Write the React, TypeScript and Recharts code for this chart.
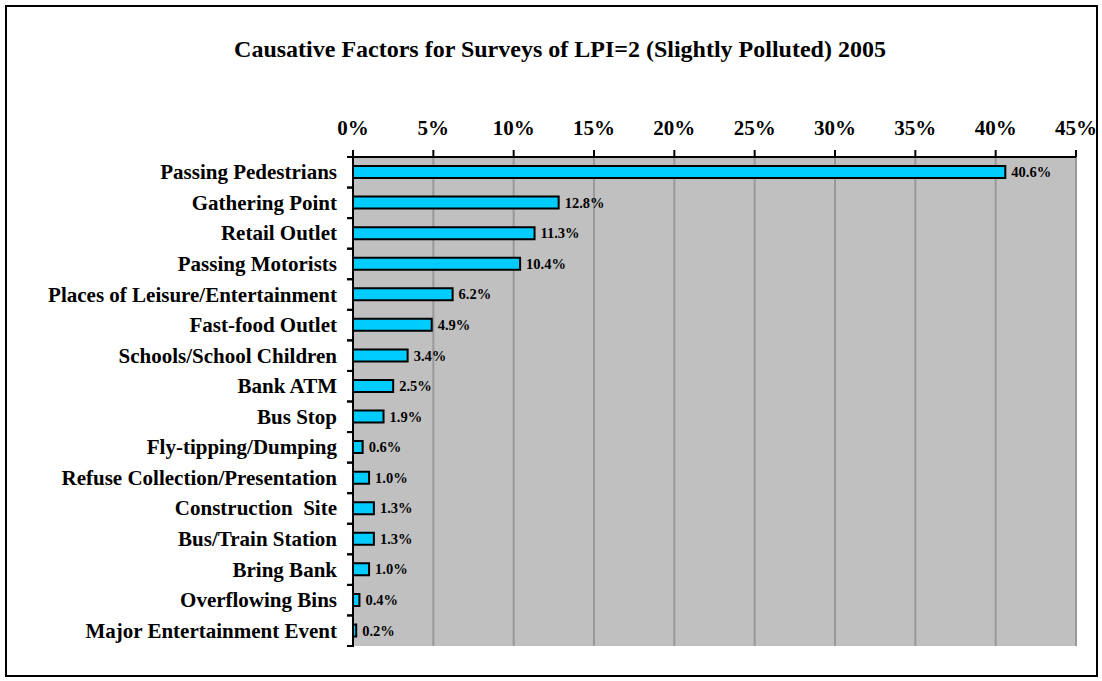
import { Bar, BarChart, CartesianGrid, LabelList, XAxis, YAxis } from "recharts";

const categories = [
  "Passing Pedestrians",
  "Gathering Point",
  "Retail Outlet",
  "Passing Motorists",
  "Places of Leisure/Entertainment",
  "Fast-food Outlet",
  "Schools/School Children",
  "Bank ATM",
  "Bus Stop",
  "Fly-tipping/Dumping",
  "Refuse Collection/Presentation",
  "Construction  Site",
  "Bus/Train Station",
  "Bring Bank",
  "Overflowing Bins",
  "Major Entertainment Event",
];

const shares = [40.6, 12.8, 11.3, 10.4, 6.2, 4.9, 3.4, 2.5, 1.9, 0.6, 1.0, 1.3, 1.3, 1.0, 0.4, 0.2];

const xTicks = [0, 5, 10, 15, 20, 25, 30, 35, 40, 45];

const data = categories.map((name, i) => ({ name, value: shares[i] }));

const FONT = "'Liberation Serif', 'Times New Roman', serif";
const PLOT_TOP = 157;
const PLOT_BOTTOM = 646;
const BAND = (PLOT_BOTTOM - PLOT_TOP) / categories.length;

const CategoryTick = (props: any) => {
  const { x, y, payload } = props;
  const axisX = x + 9;
  return (
    <g>
      <line x1={axisX - 7} x2={axisX} y1={y - BAND / 2} y2={y - BAND / 2} stroke="#000" strokeWidth={2} />
      <line x1={axisX - 7} x2={axisX} y1={y + BAND / 2} y2={y + BAND / 2} stroke="#000" strokeWidth={2} />
      <text
        x={x - 8}
        y={y}
        dy={7}
        textAnchor="end"
        fontFamily={FONT}
        fontWeight="bold"
        fontSize={21}
        fill="#000"
        style={{ whiteSpace: "pre" }}
      >
        {payload.value}
      </text>
    </g>
  );
};

export default function App() {
  return (
    <div style={{ position: "absolute", left: 0, top: 0, width: 1102, height: 681, background: "#fff" }}>
      <div
        style={{
          position: "absolute",
          left: 5,
          top: 5,
          width: 1089,
          height: 668,
          border: "2px solid #000",
        }}
      />
      <div
        style={{
          position: "absolute",
          left: 0,
          width: 1120,
          top: 36,
          textAlign: "center",
          fontFamily: FONT,
          fontWeight: "bold",
          fontSize: 24,
          color: "#000",
        }}
      >
        Causative Factors for Surveys of LPI=2 (Slightly Polluted) 2005
      </div>
      <div style={{ position: "absolute", left: 0, top: 0 }}>
        <BarChart
          width={1102}
          height={681}
          data={data}
          layout="vertical"
          margin={{ top: PLOT_TOP - 50, right: 26, bottom: 681 - PLOT_BOTTOM, left: 0 }}
          barSize={12}
        >
          <CartesianGrid horizontal={false} vertical fill="#C0C0C0" stroke="#999" strokeWidth={2} />
          <XAxis
            type="number"
            orientation="top"
            domain={[0, 45]}
            ticks={xTicks}
            height={50}
            tickFormatter={(v) => `${v}%`}
            axisLine={{ stroke: "#000", strokeWidth: 2 }}
            tickLine={{ stroke: "#000", strokeWidth: 2 }}
            tickSize={7}
            tick={{ fontFamily: FONT, fontWeight: "bold", fontSize: 21, fill: "#000", dy: -13 }}
          />
          <XAxis xAxisId="bottom" type="number" orientation="bottom" domain={[0, 45]} height={0} tick={false} tickLine={false} axisLine={{ stroke: "#808080", strokeWidth: 2 }} />
          <YAxis
            type="category"
            dataKey="name"
            width={353}
            axisLine={{ stroke: "#000", strokeWidth: 2 }}
            tickLine={false}
            tick={<CategoryTick />}
            interval={0}
          />
          <Bar dataKey="value" fill="#00CCFF" stroke="#000" strokeWidth={2} isAnimationActive={false}>
            <LabelList
              dataKey="value"
              position="right"
              offset={6}
              formatter={(v: any) => `${Number(v).toFixed(1)}%`}
              style={{ fontFamily: FONT, fontWeight: "bold", fontSize: 14.5, fill: "#000" }}
            />
          </Bar>
        </BarChart>
      </div>
    </div>
  );
}
